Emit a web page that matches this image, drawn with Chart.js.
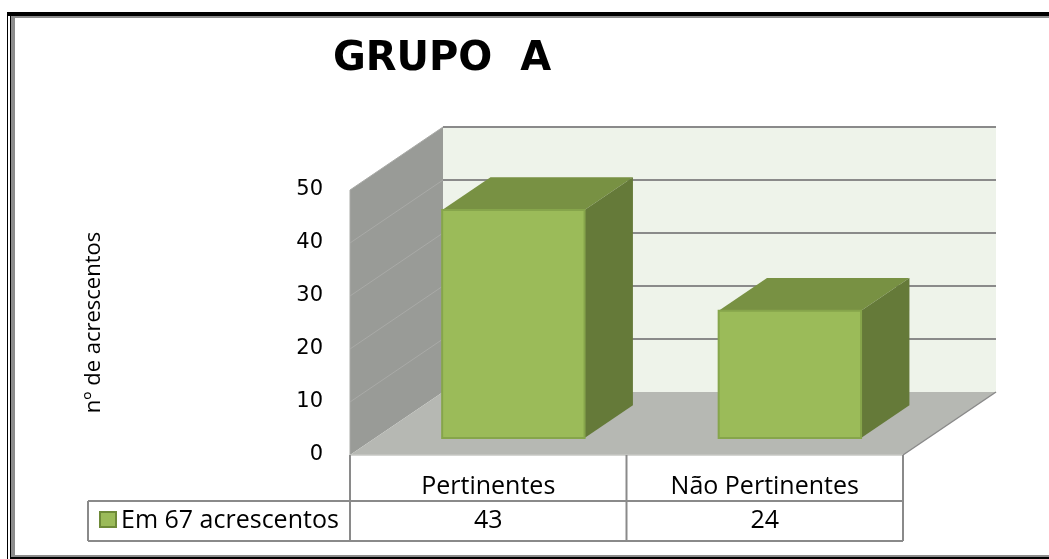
<!DOCTYPE html>
<html>
<head>
<meta charset="utf-8">
<script src="https://cdn.jsdelivr.net/npm/chart.js@4.4.1/dist/chart.umd.min.js"></script>
<style>
  html, body { margin: 0; padding: 0; background: #fff; }
  #wrap { width: 1049px; height: 559px; }
</style>
</head>
<body>
<div id="wrap"><canvas id="myChart" width="1049" height="559"></canvas></div>
<script>
// Chart data
const categories = ['Pertinentes', 'Não Pertinentes'];
const values = [43, 24];
const seriesLabel = 'Em 67 acrescentos';
const yTicks = [0, 10, 20, 30, 40, 50];
const chartTitle = 'GRUPO  A';
const yTitle = 'nº de acrescentos';

// 3D look
const depth = { dx: 93, dy: -63 };
const barFront = 0.27, barBack = 0.79;
const colors = {
    backWall: '#eef3ea',
    sideWall: '#999b97',
    floor: '#b6b8b3',
    grid: '#8a8a8a',
    sideGrid: '#a9aaa7',
    barFront: '#9bbb59',
    barTop: '#789143',
    barSide: '#657a39',
    barEdge: '#86a54b',
    table: '#8a8a8a'
};

function poly(ctx, pts, fill, stroke, lw) {
    ctx.beginPath();
    ctx.moveTo(pts[0][0], pts[0][1]);
    for (let i = 1; i < pts.length; i++) ctx.lineTo(pts[i][0], pts[i][1]);
    ctx.closePath();
    if (fill) { ctx.fillStyle = fill; ctx.fill(); }
    if (stroke) { ctx.strokeStyle = stroke; ctx.lineWidth = lw || 1; ctx.stroke(); }
}

function line(ctx, x1, y1, x2, y2, color, lw) {
    ctx.beginPath();
    ctx.moveTo(x1, y1);
    ctx.lineTo(x2, y2);
    ctx.strokeStyle = color;
    ctx.lineWidth = lw;
    ctx.stroke();
}

// walls, floor and grid
const walls = {
    id: 'walls',
    beforeDatasetsDraw(chart) {
        const { ctx, chartArea: a, scales: { y } } = chart;
        const dx = depth.dx, dy = depth.dy;
        const y0 = y.getPixelForValue(yTicks[0]);
        const yTop = y.getPixelForValue(yTicks[yTicks.length - 1]);
        ctx.save();
        poly(ctx, [[a.left + dx, y0 + dy], [a.right + dx, y0 + dy], [a.right + dx, yTop + dy], [a.left + dx, yTop + dy]], colors.backWall);
        poly(ctx, [[a.left, y0], [a.left + dx, y0 + dy], [a.left + dx, yTop + dy], [a.left, yTop]], colors.sideWall);
        poly(ctx, [[a.left, y0], [a.right, y0], [a.right + dx, y0 + dy], [a.left + dx, y0 + dy]], colors.floor);
        yTicks.slice(1).forEach(v => {
            const py = y.getPixelForValue(v);
            line(ctx, a.left + dx, py + dy, a.right + dx, py + dy, colors.grid, 2);
            line(ctx, a.left, py, a.left + dx, py + dy, colors.sideGrid, 1);
        });
        line(ctx, a.left, y0, a.left, yTop, colors.sideGrid, 1);
        line(ctx, a.right, y0, a.right + dx, y0 + dy, colors.grid, 1.5);
        line(ctx, a.left, y0, a.right, y0, '#c6c7c3', 1.5);
        ctx.restore();
    },
    afterDatasetsDraw(chart) {
        const { ctx } = chart;
        const meta = chart.getDatasetMeta(0);
        const ax = depth.dx * barFront, ay = depth.dy * barFront;
        const bx = depth.dx * barBack, by = depth.dy * barBack;
        ctx.save();
        meta.data.forEach(bar => {
            const p = bar.getProps(['x', 'y', 'base', 'width'], true);
            const L = p.x - p.width / 2, R = p.x + p.width / 2;
            poly(ctx, [[L + ax, p.y + ay], [R + ax, p.y + ay], [R + bx, p.y + by], [L + bx, p.y + by]], colors.barTop);
            poly(ctx, [[R + ax, p.y + ay], [R + bx, p.y + by], [R + bx, p.base + by], [R + ax, p.base + ay]], colors.barSide);
            poly(ctx, [[L + ax, p.y + ay], [R + ax, p.y + ay], [R + ax, p.base + ay], [L + ax, p.base + ay]], colors.barFront, colors.barEdge, 2);
        });
        ctx.restore();
    },
    afterDraw(chart) {
        const { ctx, chartArea: a, scales: { x } } = chart;
        ctx.save();

        // Title
        ctx.fillStyle = '#000';
        ctx.font = 'bold 40px "DejaVu Sans"';
        ctx.textAlign = 'center';
        ctx.textBaseline = 'middle';
        ctx.fillText(chartTitle, 442, 60);

        // Data table
        const rowTop = a.bottom, rowMid = 501, rowBot = 541, tableLeft = 88;
        const step = x.getPixelForValue(1) - x.getPixelForValue(0);
        const edges = [a.left];
        categories.forEach((c, i) => edges.push(x.getPixelForValue(i) + step / 2));
        edges.forEach(ex => line(ctx, ex, rowTop, ex, rowBot, colors.table, 2));
        line(ctx, tableLeft, rowMid, tableLeft, rowBot, colors.table, 2);
        line(ctx, tableLeft, rowMid, edges[edges.length - 1], rowMid, colors.table, 2);
        line(ctx, tableLeft, rowBot, edges[edges.length - 1], rowBot, colors.table, 2);

        ctx.font = '25px "Open Sans"';
        ctx.fillStyle = '#000';
        categories.forEach((c, i) => {
            const cx = x.getPixelForValue(i);
            ctx.fillText(c, cx, (rowTop + rowMid) / 2 + 9);
            ctx.fillText(String(values[i]), cx, (rowMid + rowBot) / 2);
        });

        // legend key
        ctx.fillStyle = colors.barFront;
        ctx.fillRect(100, 512, 16, 15);
        ctx.strokeStyle = '#6e8a38';
        ctx.lineWidth = 2;
        ctx.strokeRect(100, 512, 16, 15);
        ctx.fillStyle = '#000';
        ctx.textAlign = 'left';
        ctx.fillText(seriesLabel, 121, (rowMid + rowBot) / 2);

        // Frame
        ctx.fillStyle = '#000';
        ctx.fillRect(7, 12, 1042, 4);
        ctx.fillRect(7, 12, 1, 547);
        ctx.fillRect(10, 12, 1, 547);
        ctx.fillRect(10, 557, 1039, 2);
        ctx.fillStyle = '#8c8c8c';
        ctx.fillRect(11, 16, 4, 539);
        ctx.fillRect(11, 16, 1038, 2);
        ctx.fillRect(11, 555, 1038, 2);
        ctx.restore();
    }
};

const ctx = document.getElementById('myChart').getContext('2d');
new Chart(ctx, {
    type: 'bar',
    data: {
        labels: categories,
        datasets: [{
            label: seriesLabel,
            data: values,
            backgroundColor: 'rgba(0,0,0,0)',
            borderWidth: 0,
            categoryPercentage: 1,
            barPercentage: 0.515
        }]
    },
    options: {
        responsive: false,
        animation: false,
        events: [],
        layout: { padding: { left: 0, right: 146, top: 190, bottom: 104 } },
        plugins: {
            legend: { display: false },
            title: { display: false },
            tooltip: { enabled: false }
        },
        scales: {
            x: { display: false },
            y: {
                min: yTicks[0],
                max: yTicks[yTicks.length - 1],
                afterFit: scale => { scale.width = 350; },
                afterBuildTicks: scale => { scale.ticks = yTicks.map(v => ({ value: v })); },
                grid: { display: false, drawTicks: false },
                border: { display: false },
                ticks: { color: '#000', padding: 27, font: { family: 'DejaVu Sans', size: 21 } },
                title: {
                    display: true,
                    text: yTitle,
                    color: '#000',
                    font: { family: 'Open Sans', size: 22 },
                    padding: { top: 81, bottom: 0 }
                }
            }
        }
    },
    plugins: [walls]
});
</script>
</body>
</html>
